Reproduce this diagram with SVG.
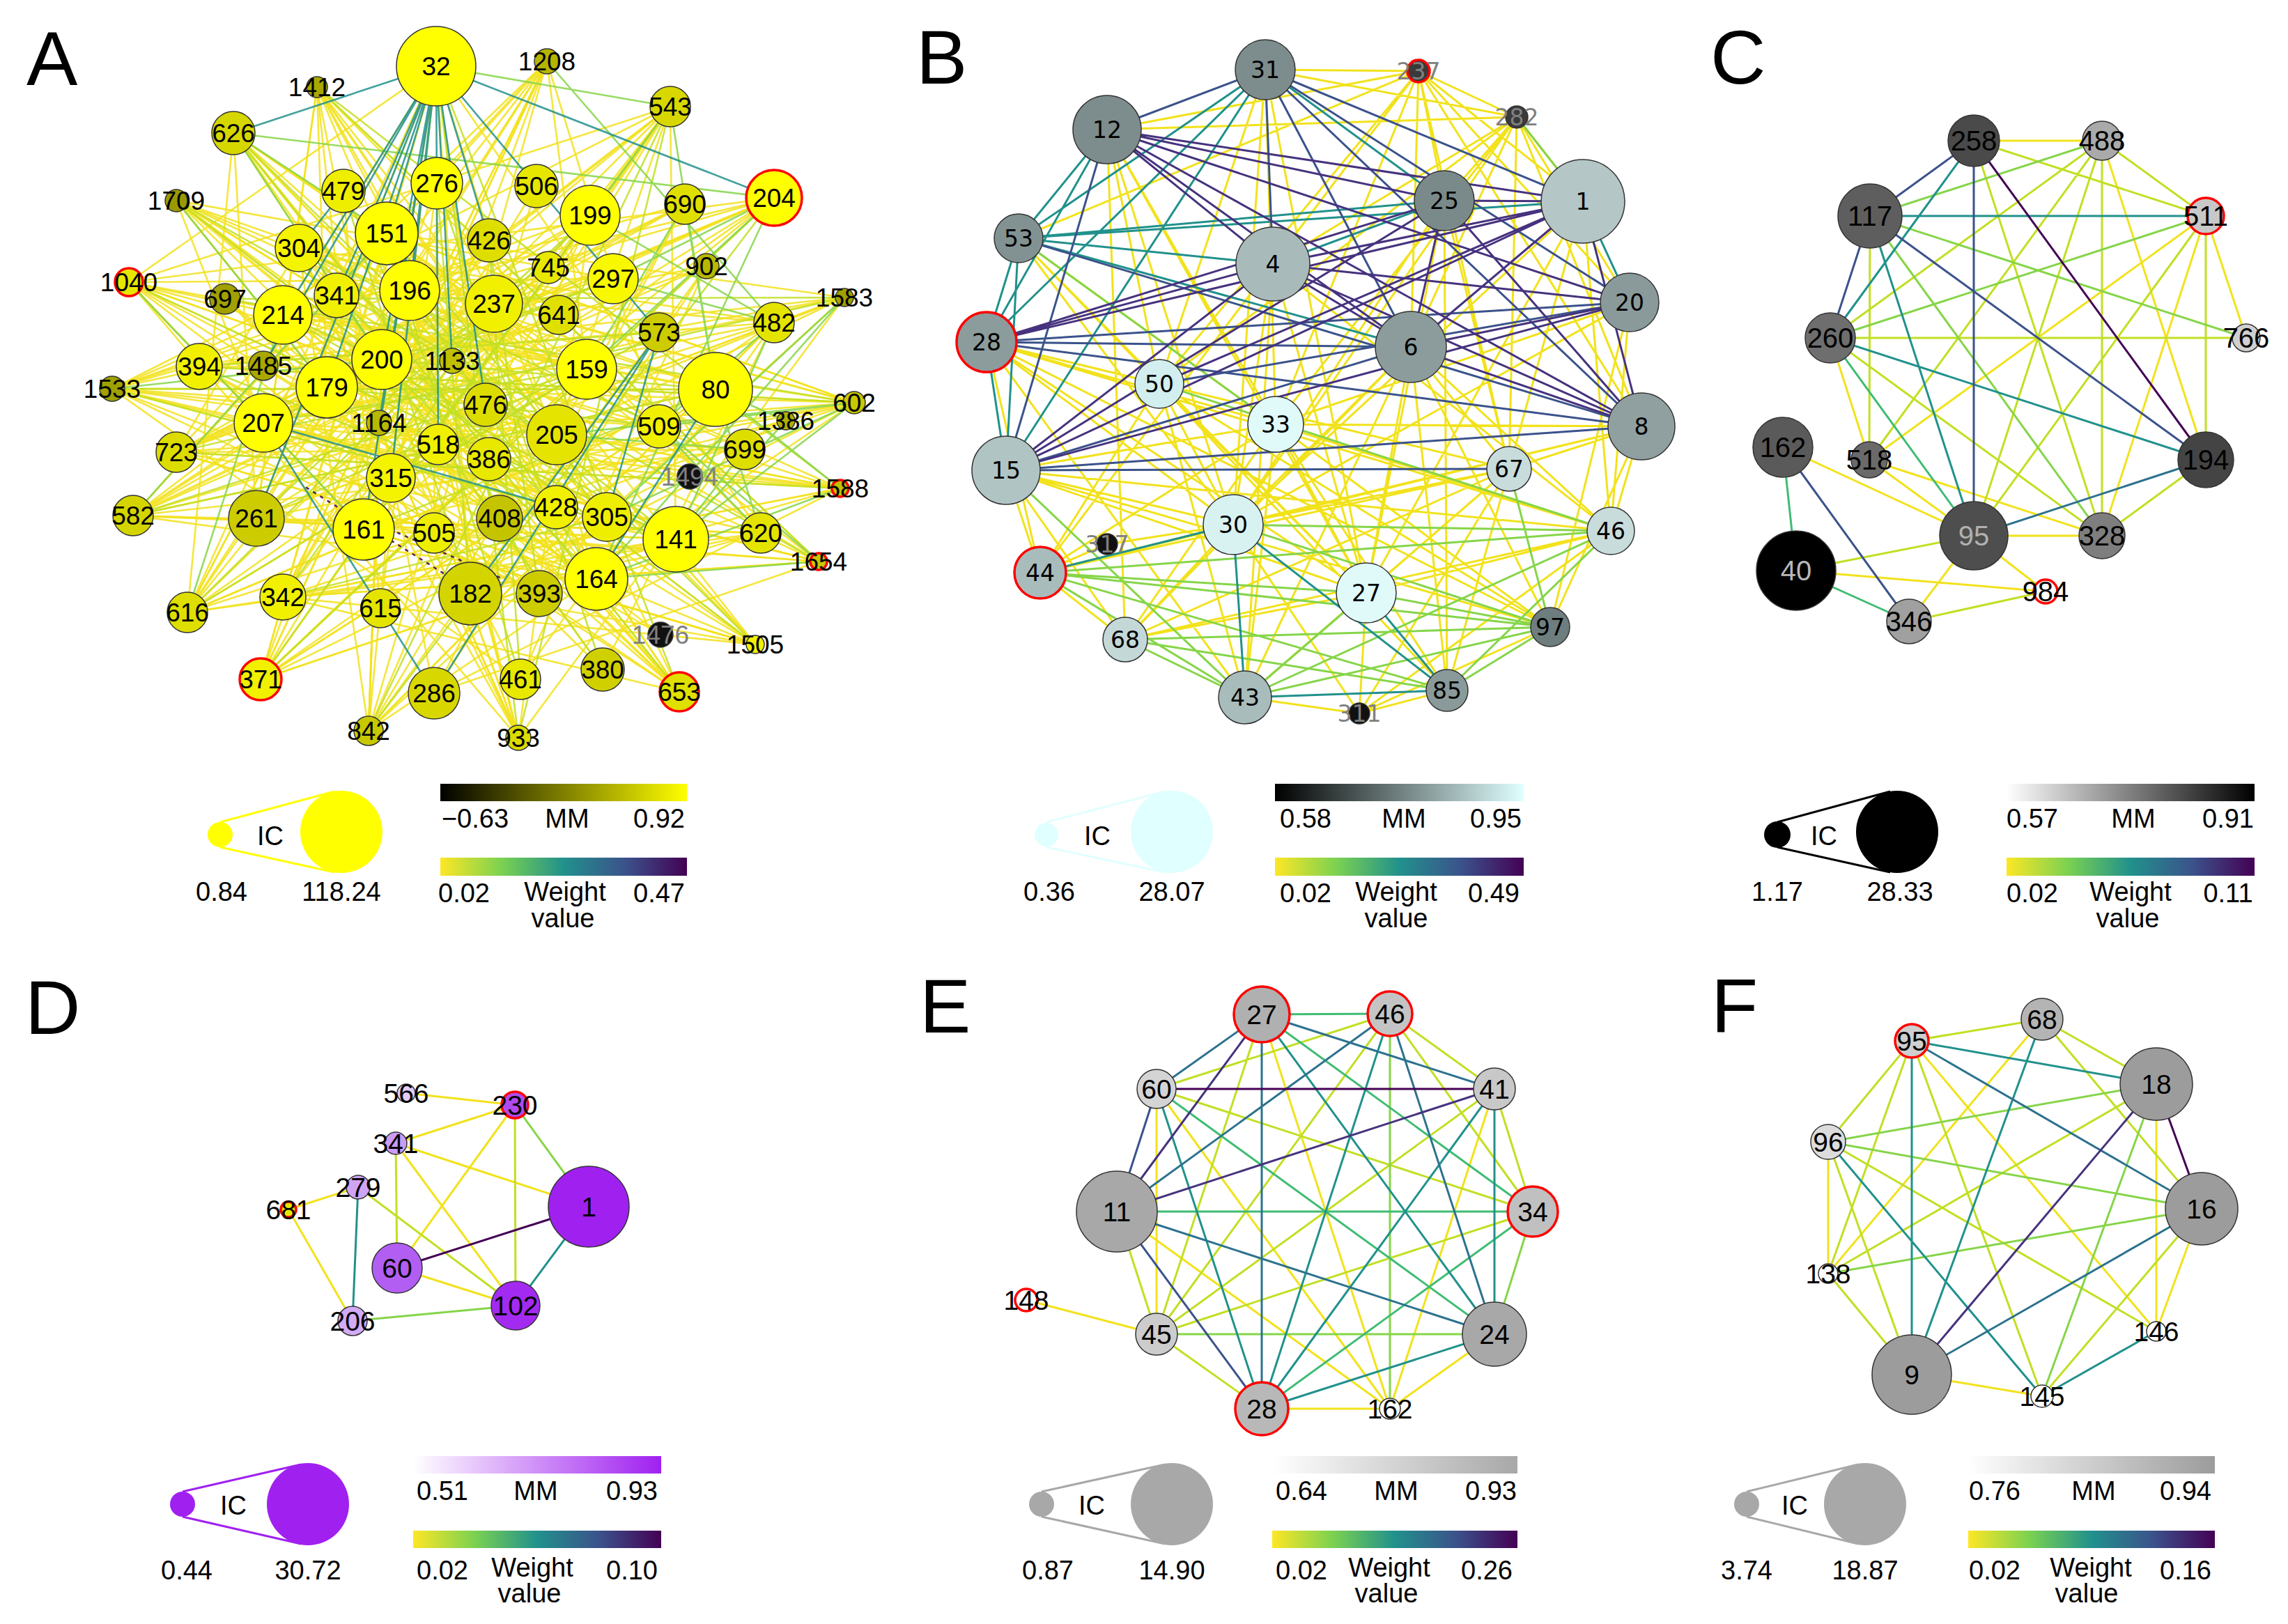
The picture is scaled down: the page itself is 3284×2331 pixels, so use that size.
<svg xmlns="http://www.w3.org/2000/svg" width="3284" height="2331" viewBox="0 0 3284 2331">
<defs>
<style>
.nd{stroke:#333;stroke-width:1.5}
.rd{stroke:#ff0000;stroke-width:3.5}
.t{font-family:"Liberation Sans",Arial,sans-serif;text-anchor:middle;dominant-baseline:central;fill:#000}
.la{font-size:37px}
.lb{font-family:"DejaVu Sans",sans-serif;font-size:33px}
.lc{font-size:40px}
.ld{font-size:39px}
.gr{fill:#808080}
.lg{font-size:38px}
.pl{font-family:"Liberation Sans",Arial,sans-serif;font-size:110px;fill:#000}
.e{fill:none;stroke-width:3;stroke-linejoin:round;stroke-linecap:round}
.ea{fill:none;stroke-width:2.6;stroke-linejoin:round;stroke-linecap:round;stroke-opacity:0.85}
.y{stroke:#f2e21c}.yg{stroke:#c2df23}.g{stroke:#86d549}.gg{stroke:#3fbc73}.t1{stroke:#21918c}.tb{stroke:#2c728e}.b{stroke:#3b528b}.p{stroke:#46327e}.pp{stroke:#440154}
</style>
<linearGradient id="gW" x1="0" x2="1" y1="0" y2="0">
<stop offset="0" stop-color="#fde725"/><stop offset="0.25" stop-color="#7ad151"/><stop offset="0.5" stop-color="#21918c"/><stop offset="0.75" stop-color="#3b528b"/><stop offset="1" stop-color="#440154"/>
</linearGradient>
<linearGradient id="gA" x1="0" x2="1"><stop offset="0" stop-color="#000"/><stop offset="1" stop-color="#ffff00"/></linearGradient>
<linearGradient id="gB" x1="0" x2="1"><stop offset="0" stop-color="#000"/><stop offset="1" stop-color="#e0ffff"/></linearGradient>
<linearGradient id="gC" x1="0" x2="1"><stop offset="0" stop-color="#fff"/><stop offset="1" stop-color="#000"/></linearGradient>
<linearGradient id="gD" x1="0" x2="1"><stop offset="0" stop-color="#fff"/><stop offset="1" stop-color="#a020f0"/></linearGradient>
<linearGradient id="gE" x1="0" x2="1"><stop offset="0" stop-color="#fff"/><stop offset="1" stop-color="#a8a8a8"/></linearGradient>
<linearGradient id="gF" x1="0" x2="1"><stop offset="0" stop-color="#fff"/><stop offset="1" stop-color="#9c9c9c"/></linearGradient>
</defs>
<rect width="3284" height="2331" fill="#fff"/>

<g id="panel-labels">
<text class="pl" x="38" y="122">A</text>
<text class="pl" x="1315" y="120">B</text>
<text class="pl" x="2455" y="120">C</text>
<text class="pl" x="36" y="1484">D</text>
<text class="pl" x="1320" y="1482">E</text>
<text class="pl" x="2456" y="1482">F</text>
</g>

<!-- ================= PANEL A ================= -->
<g id="A-connectors">
<path class="ea y" d="M626 95 L406 452 785 88 378 607 962 153 368 744 1111 284 469 556 1212 427 286 526 1226 578 429 356 1206 701 378 607 1175 806 522 760 1084 925 406 857 975 993 548 516 744 1059 555 335 529 1049 847 309 374 975 842 530 269 879 1027 559 191 740 970 774 253 649 880 400 161 558 856 831 185 405 799 624 253 288 946 612 335 191 871 742 455 125 1092 765 626 95"/>
<path class="ea y" d="M335 191 L548 516 1111 284 522 760 185 405 1027 559 374 975 627 263 975 993 588 417 161 558 970 774 962 153 561 686 744 1059 847 309 191 740 1111 463 529 1049 709 436 1226 578 406 452 1084 925 555 335 269 879 842 530 785 88 406 857 1175 806 429 356 253 649 856 831 626 95 702 659 1206 701 469 556 253 288 799 624 1212 427 368 744 455 125 623 995"/>
<path class="ea y" d="M1111 284 L406 452 983 293 378 607 1111 463 286 526 1014 382 253 649 1069 645 191 740 1092 765 269 879 1128 604 374 975 970 774 185 405 946 612 161 558 1027 559 253 288 842 530 335 191 856 831 455 125 799 624 962 153 406 857 785 88 368 744 626 95 522 760 1084 925 469 556 975 993 548 516 529 1049 588 417 744 1059 555 335 1226 578 675 852 1206 701 623 995 1175 806 378 607"/>
<path class="ea y" d="M626 95 L185 405 1111 284 374 975 962 153 191 740 785 88 269 879 335 191 975 993 253 288 1084 925 455 125 1175 806 161 558 1206 701 253 649 1226 578 529 1049 1212 427 744 1059 185 405 962 153 161 558 1111 284 269 879 626 95 374 975 785 88 253 649 983 293 191 740 1014 382 529 1049 1111 463 374 975"/>
<path class="ea y" d="M185 405 L406 452 161 558 378 607 253 288 469 556 253 649 548 516 191 740 555 335 269 879 588 417 335 191 368 744 455 125 469 556 323 429 842 530 286 526 856 831 378 525 970 774 374 975 555 335 529 1049 429 356 744 1059 406 452 975 993 378 607 185 405"/>
<path class="ea y" d="M493 274 L546 873 627 263 623 765 770 267 406 857 702 345 269 879 787 384 253 649 802 452 191 740 649 518 374 975 544 607 785 88 629 638 962 153 697 581 455 125 717 744 335 191 702 659 253 288 798 728 185 405 774 852 161 558 747 975 429 356 865 961 323 429 948 911 286 526 975 993"/>
<path class="ea y" d="M1084 925 L856 831 1092 765 675 852 1084 925 522 760 1226 578 561 686 1212 427 555 335 1226 578 469 556 1206 701 406 857 1175 806 368 744 1092 765 378 607 1069 645 429 356 1111 463 588 417 1027 559 406 452"/>
<path class="ea y" d="M455 125 L522 760 962 153 469 556 1111 284 378 607 1212 427 368 744 1226 578 406 857 1206 701 406 452 1175 806 555 335 1084 925 588 417 975 993 429 356 744 1059 548 516 529 1049 842 530 374 975 1027 559 269 879 970 774 191 740 856 831 253 649 847 309 161 558 799 624 185 405 880 400 253 288 871 742 335 191 946 612 785 88 561 686 626 95 675 852 983 293 623 995 1014 382 747 975 1111 463 865 961"/>
<path class="ea yg" d="M555 335 L799 624 406 452 970 774 429 356 946 612 469 556 880 400 378 607 842 530 368 744 847 309 522 760 1027 559 548 516 856 831 588 417 871 742 406 857 709 436 561 686 946 477 286 526 798 728 483 424 865 961 627 263 675 852 493 274 774 852 702 345 747 975 555 335"/>
<path class="ea yg" d="M185 405 L970 774 161 558 1027 559 191 740 842 530 269 879 847 309 374 975 1111 284 529 1049 962 153 744 1059 626 95 975 993 335 191 1084 925 253 288 1175 806 455 125 1206 701 253 649 1212 427 323 429 1226 578 286 526"/>
<path class="ea g" d="M1111 284 L880 400 1111 463 970 774 1226 578 871 742 1212 427 856 831 1111 284 842 530 983 293 1027 559 962 153 847 309 1111 463 946 612 1092 765 1027 559 1128 604 970 774 1069 645 799 624 1226 578 946 612 1175 806 856 831 1206 701 1027 559"/>
<path class="ea g" d="M335 191 L1111 284 M335 191 L555 335 M335 191 L548 516 M785 88 L1111 463 M626 95 L962 153 M253 288 L469 556 M185 405 L522 760 M161 558 L548 516 M191 740 L555 335 M269 879 L406 452"/>
<path class="ea t1" stroke-width="2" stroke-opacity="0.75" d="M626 95 L555 335 M626 95 L548 516 M626 95 L469 556 M626 95 L406 452 M626 95 L522 760 M626 95 L561 686 M626 95 L544 607 M626 95 L483 424 M626 95 L588 417 M626 95 L378 525 M626 95 L368 744 M626 95 L629 638 M626 95 L697 581 M626 95 L946 477 M626 95 L1111 284 M626 95 L702 345 M626 95 L649 518 M946 477 L623 995 M946 477 L675 852 M378 607 L798 728 M378 607 L623 995 M335 191 L626 95 M946 477 L871 742 M1027 559 L856 831 M493 274 L429 356"/>
<path class="ea pp" stroke-dasharray="3 9" d="M440 700 L680 850 M560 760 L720 830"/>
</g>
<g id="A-nodes">
<g id="A-n32"><circle class="nd" cx="626" cy="95" r="57" fill="#ffff00"/><text class="t la" x="626" y="95">32</text></g>
<g id="A-n1208"><circle class="nd" cx="785" cy="88" r="18" fill="#b5b500"/><text class="t la" x="785" y="88">1208</text></g>
<g id="A-n1412"><circle class="nd" cx="455" cy="125" r="15" fill="#a8a800"/><text class="t la" x="455" y="125">1412</text></g>
<g id="A-n543"><circle class="nd" cx="962" cy="153" r="29" fill="#d8d800"/><text class="t la" x="962" y="153">543</text></g>
<g id="A-n626"><circle class="nd" cx="335" cy="191" r="31" fill="#d6d600"/><text class="t la" x="335" y="191">626</text></g>
<g id="A-n204"><circle class="rd" cx="1111" cy="284" r="40" fill="#ffff00"/><text class="t la" x="1111" y="284">204</text></g>
<g id="A-n1709"><circle class="nd" cx="253" cy="288" r="16" fill="#9a9a00"/><text class="t la" x="253" y="288">1709</text></g>
<g id="A-n479"><circle class="nd" cx="493" cy="274" r="31" fill="#eeee00"/><text class="t la" x="493" y="274">479</text></g>
<g id="A-n276"><circle class="nd" cx="627" cy="263" r="37" fill="#ffff00"/><text class="t la" x="627" y="263">276</text></g>
<g id="A-n506"><circle class="nd" cx="770" cy="267" r="31" fill="#e6e600"/><text class="t la" x="770" y="267">506</text></g>
<g id="A-n199"><circle class="nd" cx="847" cy="309" r="43" fill="#ffff00"/><text class="t la" x="847" y="309">199</text></g>
<g id="A-n690"><circle class="nd" cx="983" cy="293" r="29" fill="#e0e000"/><text class="t la" x="983" y="293">690</text></g>
<g id="A-n151"><circle class="nd" cx="555" cy="335" r="45" fill="#ffff00"/><text class="t la" x="555" y="335">151</text></g>
<g id="A-n304"><circle class="nd" cx="429" cy="356" r="34" fill="#f4f400"/><text class="t la" x="429" y="356">304</text></g>
<g id="A-n426"><circle class="nd" cx="702" cy="345" r="31" fill="#dede00"/><text class="t la" x="702" y="345">426</text></g>
<g id="A-n745"><circle class="nd" cx="787" cy="384" r="23" fill="#e8e800"/><text class="t la" x="787" y="384">745</text></g>
<g id="A-n297"><circle class="nd" cx="880" cy="400" r="36" fill="#f8f800"/><text class="t la" x="880" y="400">297</text></g>
<g id="A-n902"><circle class="nd" cx="1014" cy="382" r="18" fill="#b8b800"/><text class="t la" x="1014" y="382">902</text></g>
<g id="A-n1040"><circle class="rd" cx="185" cy="405" r="20" fill="#e6e600"/><text class="t la" x="185" y="405">1040</text></g>
<g id="A-n697"><circle class="nd" cx="323" cy="429" r="22" fill="#a0a000"/><text class="t la" x="323" y="429">697</text></g>
<g id="A-n214"><circle class="nd" cx="406" cy="452" r="42" fill="#ffff00"/><text class="t la" x="406" y="452">214</text></g>
<g id="A-n341"><circle class="nd" cx="483" cy="424" r="32" fill="#f0f000"/><text class="t la" x="483" y="424">341</text></g>
<g id="A-n196"><circle class="nd" cx="588" cy="417" r="43" fill="#ffff00"/><text class="t la" x="588" y="417">196</text></g>
<g id="A-n237"><circle class="nd" cx="709" cy="436" r="41" fill="#f0f000"/><text class="t la" x="709" y="436">237</text></g>
<g id="A-n641"><circle class="nd" cx="802" cy="452" r="28" fill="#e0e000"/><text class="t la" x="802" y="452">641</text></g>
<g id="A-n573"><circle class="nd" cx="946" cy="477" r="28" fill="#cccc00"/><text class="t la" x="946" y="477">573</text></g>
<g id="A-n482"><circle class="nd" cx="1111" cy="463" r="29" fill="#e4e400"/><text class="t la" x="1111" y="463">482</text></g>
<g id="A-n1583"><circle class="nd" cx="1212" cy="427" r="13" fill="#a0a000"/><text class="t la" x="1212" y="427">1583</text></g>
<g id="A-n1533"><circle class="nd" cx="161" cy="558" r="18" fill="#a0a000"/><text class="t la" x="161" y="558">1533</text></g>
<g id="A-n394"><circle class="nd" cx="286" cy="526" r="33" fill="#f0f000"/><text class="t la" x="286" y="526">394</text></g>
<g id="A-n1485"><circle class="nd" cx="378" cy="525" r="21" fill="#a8a800"/><text class="t la" x="378" y="525">1485</text></g>
<g id="A-n200"><circle class="nd" cx="548" cy="516" r="43" fill="#ffff00"/><text class="t la" x="548" y="516">200</text></g>
<g id="A-n1133"><circle class="nd" cx="649" cy="518" r="18" fill="#c0c000"/><text class="t la" x="649" y="518">1133</text></g>
<g id="A-n159"><circle class="nd" cx="842" cy="530" r="43" fill="#ffff00"/><text class="t la" x="842" y="530">159</text></g>
<g id="A-n80"><circle class="nd" cx="1027" cy="559" r="53" fill="#ffff00"/><text class="t la" x="1027" y="559">80</text></g>
<g id="A-n602"><circle class="nd" cx="1226" cy="578" r="16" fill="#c8c800"/><text class="t la" x="1226" y="578">602</text></g>
<g id="A-n179"><circle class="nd" cx="469" cy="556" r="44" fill="#ffff00"/><text class="t la" x="469" y="556">179</text></g>
<g id="A-n207"><circle class="nd" cx="378" cy="607" r="42" fill="#ffff00"/><text class="t la" x="378" y="607">207</text></g>
<g id="A-n1164"><circle class="nd" cx="544" cy="607" r="18" fill="#b8b800"/><text class="t la" x="544" y="607">1164</text></g>
<g id="A-n476"><circle class="nd" cx="697" cy="581" r="31" fill="#dcdc00"/><text class="t la" x="697" y="581">476</text></g>
<g id="A-n205"><circle class="nd" cx="799" cy="624" r="43" fill="#e4e400"/><text class="t la" x="799" y="624">205</text></g>
<g id="A-n509"><circle class="nd" cx="946" cy="612" r="31" fill="#f0f000"/><text class="t la" x="946" y="612">509</text></g>
<g id="A-n1386"><circle class="nd" cx="1128" cy="604" r="13" fill="#b0b000"/><text class="t la" x="1128" y="604">1386</text></g>
<g id="A-n699"><circle class="nd" cx="1069" cy="645" r="29" fill="#dede00"/><text class="t la" x="1069" y="645">699</text></g>
<g id="A-n723"><circle class="nd" cx="253" cy="649" r="29" fill="#dcdc00"/><text class="t la" x="253" y="649">723</text></g>
<g id="A-n518"><circle class="nd" cx="629" cy="638" r="29" fill="#f0f000"/><text class="t la" x="629" y="638">518</text></g>
<g id="A-n386"><circle class="nd" cx="702" cy="659" r="31" fill="#e8e800"/><text class="t la" x="702" y="659">386</text></g>
<g id="A-n315"><circle class="nd" cx="561" cy="686" r="35" fill="#f4f400"/><text class="t la" x="561" y="686">315</text></g>
<g id="A-n1494"><circle class="nd" cx="990" cy="684" r="18" fill="#111"/><text class="t la gr" x="990" y="684">1494</text></g>
<g id="A-n1588"><circle class="rd" cx="1206" cy="701" r="12" fill="#c0c000"/><text class="t la" x="1206" y="701">1588</text></g>
<g id="A-n582"><circle class="nd" cx="191" cy="740" r="29" fill="#d4d400"/><text class="t la" x="191" y="740">582</text></g>
<g id="A-n261"><circle class="nd" cx="368" cy="744" r="40" fill="#cccc00"/><text class="t la" x="368" y="744">261</text></g>
<g id="A-n161"><circle class="nd" cx="522" cy="760" r="44" fill="#ffff00"/><text class="t la" x="522" y="760">161</text></g>
<g id="A-n505"><circle class="nd" cx="623" cy="765" r="29" fill="#eeee00"/><text class="t la" x="623" y="765">505</text></g>
<g id="A-n408"><circle class="nd" cx="717" cy="744" r="33" fill="#c4c400"/><text class="t la" x="717" y="744">408</text></g>
<g id="A-n428"><circle class="nd" cx="798" cy="728" r="31" fill="#f0f000"/><text class="t la" x="798" y="728">428</text></g>
<g id="A-n305"><circle class="nd" cx="871" cy="742" r="35" fill="#eeee00"/><text class="t la" x="871" y="742">305</text></g>
<g id="A-n141"><circle class="nd" cx="970" cy="774" r="47" fill="#ffff00"/><text class="t la" x="970" y="774">141</text></g>
<g id="A-n620"><circle class="nd" cx="1092" cy="765" r="29" fill="#e4e400"/><text class="t la" x="1092" y="765">620</text></g>
<g id="A-n1654"><circle class="rd" cx="1175" cy="806" r="12" fill="#c8c800"/><text class="t la" x="1175" y="806">1654</text></g>
<g id="A-n616"><circle class="nd" cx="269" cy="879" r="29" fill="#dede00"/><text class="t la" x="269" y="879">616</text></g>
<g id="A-n342"><circle class="nd" cx="406" cy="857" r="33" fill="#f0f000"/><text class="t la" x="406" y="857">342</text></g>
<g id="A-n615"><circle class="nd" cx="546" cy="873" r="28" fill="#e4e400"/><text class="t la" x="546" y="873">615</text></g>
<g id="A-n182"><circle class="nd" cx="675" cy="852" r="45" fill="#d4d400"/><text class="t la" x="675" y="852">182</text></g>
<g id="A-n393"><circle class="nd" cx="774" cy="852" r="33" fill="#cccc00"/><text class="t la" x="774" y="852">393</text></g>
<g id="A-n164"><circle class="nd" cx="856" cy="831" r="45" fill="#ffff00"/><text class="t la" x="856" y="831">164</text></g>
<g id="A-n1476"><circle class="nd" cx="948" cy="911" r="18" fill="#111"/><text class="t la gr" x="948" y="911">1476</text></g>
<g id="A-n1505"><circle class="nd" cx="1084" cy="925" r="13" fill="#f0f000"/><text class="t la" x="1084" y="925">1505</text></g>
<g id="A-n371"><circle class="rd" cx="374" cy="975" r="30" fill="#f0f000"/><text class="t la" x="374" y="975">371</text></g>
<g id="A-n286"><circle class="nd" cx="623" cy="995" r="37" fill="#d8d800"/><text class="t la" x="623" y="995">286</text></g>
<g id="A-n461"><circle class="nd" cx="747" cy="975" r="29" fill="#e8e800"/><text class="t la" x="747" y="975">461</text></g>
<g id="A-n380"><circle class="nd" cx="865" cy="961" r="31" fill="#d0d000"/><text class="t la" x="865" y="961">380</text></g>
<g id="A-n653"><circle class="rd" cx="975" cy="993" r="28" fill="#e0e000"/><text class="t la" x="975" y="993">653</text></g>
<g id="A-n842"><circle class="nd" cx="529" cy="1049" r="21" fill="#c8c800"/><text class="t la" x="529" y="1049">842</text></g>
<g id="A-n933"><circle class="nd" cx="744" cy="1059" r="18" fill="#dcdc00"/><text class="t la" x="744" y="1059">933</text></g>
</g>

<!-- ================= PANEL B ================= -->
<g id="B-connectors">
<path class="e y" d="M2036 102L1816 100M2036 102L1589 186M2036 102L1827 379M2036 102L2073 288M2036 102L2025 498M2036 102L2272 289M2036 102L2339 434M2036 102L1831 609M2036 102L1664 551M2036 102L1462 342M2036 102L2166 673M2036 102L2177 168M2036 102L2356 612
M2177 168L1816 100M2177 168L1589 186M2177 168L2073 288M2177 168L1827 379M2177 168L2025 498M2177 168L2272 289M2177 168L2339 434M2177 168L2356 612M2177 168L1831 609M2177 168L1770 753M2177 168L1664 551M2177 168L2166 673
M1831 609L1589 186M1831 609L1416 491M1831 609L1444 675M1831 609L2356 612M1831 609L2339 434M1831 609L2312 762M1831 609L1787 1001M1831 609L1961 851M1831 609L1493 822M1831 609L2077 991M1831 609L2225 900M1831 609L1615 918
M1664 551L1589 186M1664 551L1816 100M1664 551L1462 342M1664 551L1770 753M1664 551L1961 851M1664 551L1787 1001M1664 551L2077 991M1664 551L2166 673M1664 551L1416 491M1664 551L2225 900
M1770 753L1827 379M1770 753L2025 498M1770 753L2073 288M1770 753L2272 289M1770 753L2356 612M1770 753L2166 673M1770 753L1615 918M1770 753L1951 1024
M1961 851L2025 498M1961 851L1827 379M1961 851L2073 288M1961 851L2272 289M1961 851L1416 491M1961 851L1444 675M1961 851L1462 342M1961 851L2166 673M1961 851L1951 1024
M2166 673L2025 498M2166 673L2073 288M2166 673L2272 289M2166 673L1416 491M2166 673L2077 991M2166 673L1787 1001M2166 673L1493 822
M1493 822L1444 675M1493 822L1416 491M1493 822L1664 551M1493 822L1827 379M1493 822L1615 918
M1615 918L1589 186M1615 918L2025 498M1615 918L2312 762M1615 918L2166 673M1615 918L1961 851
M1787 1001L1416 491M1787 1001L2025 498M1787 1001L1951 1024
M2312 762L2025 498M2312 762L1827 379M2312 762L1444 675M2312 762L1416 491M2312 762L2272 289M2312 762L2339 434M2312 762L2356 612M2312 762L1961 851
M2077 991L2073 288M2077 991L2025 498M2077 991L1951 1024
M2225 900L2025 498M2225 900L2356 612M2225 900L2339 434M2225 900L1444 675M2225 900L1416 491
M1951 1024L2166 673M1951 1024L2312 762M1951 1024L2225 900M1589 781L1770 753M1589 781L1493 822
M1444 675L1615 918M1444 675L1770 753M1416 491L1770 753M1589 186L1770 753M1589 186L1961 851M1816 100L1831 609M1816 100L1664 551M1816 100L1770 753M1816 100L1961 851M1462 342L1831 609M1462 342L1770 753M1827 379L1787 1001M2339 434L1770 753M2356 612L2166 673M2356 612L1770 753M2356 612L1493 822"/>
<path class="e g" d="M1493 822L1770 753M1493 822L1961 851M1493 822L2077 991M1493 822L2225 900M1493 822L1787 1001M1493 822L2312 762M1787 1001L1961 851M1787 1001L2225 900M1787 1001L2312 762M1615 918L2225 900M1615 918L1787 1001M1615 918L2077 991M2077 991L2312 762M2077 991L2225 900M1770 753L2225 900M1770 753L2312 762M1961 851L2225 900M1444 675L1787 1001M1664 551L2312 762M2166 673L2225 900M2272 289L2177 168M1462 342L1831 609"/>
<path class="e t1" d="M1462 342L1816 100M1462 342L1589 186M1462 342L1416 491M1462 342L1444 675M1462 342L1827 379M1462 342L2025 498M1462 342L2073 288M1462 342L2272 289M1416 491L1589 186M1416 491L1816 100M1416 491L1444 675M1444 675L1816 100M1816 100L2073 288M1770 753L1787 1001M1770 753L2077 991M1787 1001L2077 991M1961 851L2077 991M1827 379L2073 288M2272 289L2339 434M1493 822L1770 753"/>
<path class="e b" d="M1816 100L1589 186M1816 100L1827 379M1816 100L2025 498M1816 100L2356 612M1816 100L2339 434M1816 100L2272 289M1416 491L2339 434M1416 491L2025 498M1416 491L2356 612M1444 675L2025 498M1444 675L2356 612M1444 675L2166 673M1444 675L1589 186M1462 342L2356 612M1664 551L2339 434"/>
<path class="e p" d="M1589 186L2073 288M1589 186L2272 289M1589 186L2025 498M1589 186L2339 434M1589 186L2356 612M1589 186L1827 379M1827 379L2272 289M1827 379L2339 434M1827 379L2356 612M1827 379L2025 498M2073 288L2272 289M2272 289L2025 498M2272 289L1416 491M2272 289L1444 675M2272 289L1664 551M1416 491L1827 379M1416 491L2073 288M1444 675L2073 288M1444 675L1827 379M1444 675L2339 434M2025 498L2356 612M2025 498L2339 434M2073 288L2025 498M2073 288L2356 612M2272 289L2356 612"/>
</g>
<g id="B-nodes">
<g id="B-n31"><circle class="nd" cx="1816" cy="100" r="43" fill="#7d8c8c"/><text class="t lb" x="1816" y="100">31</text></g>
<g id="B-n237"><circle class="rd" cx="2036" cy="102" r="16" fill="#3a3a3a"/><text class="t lb gr" x="2036" y="102">237</text></g>
<g id="B-n282"><circle class="nd" cx="2177" cy="168" r="16" fill="#3a3a3a"/><text class="t lb gr" x="2177" y="168">282</text></g>
<g id="B-n12"><circle class="nd" cx="1589" cy="186" r="49" fill="#7d8c8c"/><text class="t lb" x="1589" y="186">12</text></g>
<g id="B-n25"><circle class="nd" cx="2073" cy="288" r="43" fill="#7a8a8a"/><text class="t lb" x="2073" y="288">25</text></g>
<g id="B-n1"><circle class="nd" cx="2272" cy="289" r="60" fill="#b4c6c6"/><text class="t lb" x="2272" y="289">1</text></g>
<g id="B-n53"><circle class="nd" cx="1462" cy="342" r="35" fill="#829292"/><text class="t lb" x="1462" y="342">53</text></g>
<g id="B-n4"><circle class="nd" cx="1827" cy="379" r="53" fill="#a9baba"/><text class="t lb" x="1827" y="379">4</text></g>
<g id="B-n20"><circle class="nd" cx="2339" cy="434" r="42" fill="#8a9a9a"/><text class="t lb" x="2339" y="434">20</text></g>
<g id="B-n28"><circle class="rd" cx="1416" cy="491" r="43" fill="#8c9c9c"/><text class="t lb" x="1416" y="491">28</text></g>
<g id="B-n6"><circle class="nd" cx="2025" cy="498" r="51" fill="#8c9c9c"/><text class="t lb" x="2025" y="498">6</text></g>
<g id="B-n50"><circle class="nd" cx="1664" cy="551" r="35" fill="#d2eeee"/><text class="t lb" x="1664" y="551">50</text></g>
<g id="B-n33"><circle class="nd" cx="1831" cy="609" r="40" fill="#e0fafa"/><text class="t lb" x="1831" y="609">33</text></g>
<g id="B-n8"><circle class="nd" cx="2356" cy="612" r="48" fill="#90a0a0"/><text class="t lb" x="2356" y="612">8</text></g>
<g id="B-n15"><circle class="nd" cx="1444" cy="675" r="49" fill="#b0c4c4"/><text class="t lb" x="1444" y="675">15</text></g>
<g id="B-n67"><circle class="nd" cx="2166" cy="673" r="32" fill="#c8dcdc"/><text class="t lb" x="2166" y="673">67</text></g>
<g id="B-n46"><circle class="nd" cx="2312" cy="762" r="34" fill="#c8dcdc"/><text class="t lb" x="2312" y="762">46</text></g>
<g id="B-n30"><circle class="nd" cx="1770" cy="753" r="43" fill="#d8f2f2"/><text class="t lb" x="1770" y="753">30</text></g>
<g id="B-n317"><circle class="nd" cx="1589" cy="781" r="15" fill="#111"/><text class="t lb gr" x="1589" y="781">317</text></g>
<g id="B-n44"><circle class="rd" cx="1493" cy="822" r="37" fill="#a8bcbc"/><text class="t lb" x="1493" y="822">44</text></g>
<g id="B-n27"><circle class="nd" cx="1961" cy="851" r="43" fill="#e0fafa"/><text class="t lb" x="1961" y="851">27</text></g>
<g id="B-n97"><circle class="nd" cx="2225" cy="900" r="28" fill="#6e7e7e"/><text class="t lb" x="2225" y="900">97</text></g>
<g id="B-n68"><circle class="nd" cx="1615" cy="918" r="32" fill="#c4d8d8"/><text class="t lb" x="1615" y="918">68</text></g>
<g id="B-n85"><circle class="nd" cx="2077" cy="991" r="30" fill="#8a9a9a"/><text class="t lb" x="2077" y="991">85</text></g>
<g id="B-n43"><circle class="nd" cx="1787" cy="1001" r="38" fill="#a8bcbc"/><text class="t lb" x="1787" y="1001">43</text></g>
<g id="B-n311"><circle class="nd" cx="1951" cy="1024" r="15" fill="#111"/><text class="t lb gr" x="1951" y="1024">311</text></g>
</g>

<!-- ================= PANEL C ================= -->
<g id="C-connectors">
<path class="e y" d="M2833 202L3017 202M3017 202L3166 660M3166 310L2683 660M3166 310L3017 769M3166 310L3224 485M2627 485L2683 660M2683 660L3017 769M2683 660L2833 769M2833 769L3017 769M2559 642L2833 769M2578 819L2936 849M2833 769L2740 892M2833 769L2936 849"/>
<path class="e yg" d="M2833 202L3166 310M2833 202L3017 769M3017 202L3166 310M3017 202L2627 485M3017 202L2683 660M3017 202L2833 769M3017 202L3017 769M2684 310L2683 660M3166 310L2833 769M3166 310L3166 660M2627 485L3224 485M2627 485L3017 769M3017 769L3166 660M2578 819L2833 769M2740 892L2936 849"/>
<path class="e g" d="M3017 202L2684 310M2684 310L3224 485M2684 310L3017 769M3166 310L2627 485"/>
<path class="e gg" d="M2559 642L2578 819M2578 819L2740 892M2627 485L2833 769"/>
<path class="e t1" d="M2684 310L3166 310M2833 202L2627 485M2684 310L2833 769M2627 485L3166 660"/>
<path class="e tb" d="M2833 769L3166 660"/>
<path class="e b" d="M2833 202L2684 310M2833 202L2833 769M2684 310L2627 485M2684 310L3166 660M2559 642L2740 892"/>
<path class="e pp" d="M2833 202L3166 660"/>
</g>
<g id="C-nodes">
<g id="C-n258"><circle class="nd" cx="2833" cy="202" r="37" fill="#4a4a4a"/><text class="t lc" x="2833" y="202">258</text></g>
<g id="C-n488"><circle class="nd" cx="3017" cy="202" r="28" fill="#aaaaaa"/><text class="t lc" x="3017" y="202">488</text></g>
<g id="C-n117"><circle class="nd" cx="2684" cy="310" r="46" fill="#5e5e5e"/><text class="t lc" x="2684" y="310">117</text></g>
<g id="C-n511"><circle class="rd" cx="3166" cy="310" r="26" fill="#c8c8c8"/><text class="t lc" x="3166" y="310">511</text></g>
<g id="C-n260"><circle class="nd" cx="2627" cy="485" r="36" fill="#6e6e6e"/><text class="t lc" x="2627" y="485">260</text></g>
<g id="C-n766"><circle class="nd" cx="3224" cy="485" r="20" fill="#d0d0d0"/><text class="t lc" x="3224" y="485">766</text></g>
<g id="C-n162"><circle class="nd" cx="2559" cy="642" r="43" fill="#5a5a5a"/><text class="t lc" x="2559" y="642">162</text></g>
<g id="C-n518"><circle class="nd" cx="2683" cy="660" r="26" fill="#6a6a6a"/><text class="t lc" x="2683" y="660">518</text></g>
<g id="C-n194"><circle class="nd" cx="3166" cy="660" r="40" fill="#444444"/><text class="t lc" x="3166" y="660">194</text></g>
<g id="C-n95"><circle class="nd" cx="2833" cy="769" r="49" fill="#4e4e4e"/><text class="t lc" x="2833" y="769" style="fill:#b0b0b0">95</text></g>
<g id="C-n328"><circle class="nd" cx="3017" cy="769" r="33" fill="#7e7e7e"/><text class="t lc" x="3017" y="769">328</text></g>
<g id="C-n40"><circle class="nd" cx="2578" cy="819" r="57" fill="#000"/><text class="t lc" x="2578" y="819" style="fill:#b8b8b8">40</text></g>
<g id="C-n984"><circle class="rd" cx="2936" cy="849" r="17" fill="#fff"/><text class="t lc" x="2936" y="849">984</text></g>
<g id="C-n346"><circle class="nd" cx="2740" cy="892" r="32" fill="#a0a0a0"/><text class="t lc" x="2740" y="892">346</text></g>
</g>

<!-- ================= PANEL D ================= -->
<g id="D-connectors">
<path class="e y" d="M583 1569L739 1586M739 1586L568 1641M739 1586L570 1820M568 1641L845 1732M568 1641L740 1874M514 1704L414 1736M414 1736L506 1896M570 1820L740 1874"/>
<path class="e yg" d="M739 1586L740 1874M568 1641L570 1820M514 1704L740 1874"/>
<path class="e g" d="M739 1586L845 1732M506 1896L740 1874"/>
<path class="e t1" d="M514 1704L506 1896M845 1732L740 1874"/>
<path class="e pp" stroke-width="4.5" d="M570 1820L845 1732"/>
</g>
<g id="D-nodes">
<g id="D-n566"><circle class="nd" cx="583" cy="1569" r="13" fill="#e2cdf8"/><text class="t ld" x="583" y="1569">566</text></g>
<g id="D-n230"><circle class="rd" cx="739" cy="1586" r="19" fill="#b04af0"/><text class="t ld" x="739" y="1586">230</text></g>
<g id="D-n341"><circle class="nd" cx="568" cy="1641" r="16" fill="#cc9cf5"/><text class="t ld" x="568" y="1641">341</text></g>
<g id="D-n279"><circle class="nd" cx="514" cy="1704" r="17" fill="#d0a4f5"/><text class="t ld" x="514" y="1704">279</text></g>
<g id="D-n681"><circle class="rd" cx="414" cy="1736" r="11" fill="#e6e600"/><text class="t ld" x="414" y="1736">681</text></g>
<g id="D-n1"><circle class="nd" cx="845" cy="1732" r="58" fill="#a020f0"/><text class="t ld" x="845" y="1732">1</text></g>
<g id="D-n60"><circle class="nd" cx="570" cy="1820" r="36" fill="#b25ef2"/><text class="t ld" x="570" y="1820">60</text></g>
<g id="D-n102"><circle class="nd" cx="740" cy="1874" r="35" fill="#a32af0"/><text class="t ld" x="740" y="1874">102</text></g>
<g id="D-n206"><circle class="nd" cx="506" cy="1896" r="21" fill="#d2aaf5"/><text class="t ld" x="506" y="1896">206</text></g>
</g>

<!-- ================= PANEL E ================= -->
<g id="E-connectors">
<path class="e y" d="M1811 1456L1995 2022M1660 1563L1660 1915M1660 1563L1995 2022M2145 1563L1995 2022M1603 1739L1995 2022M2145 1915L1995 2022M1811 2022L1995 2022M1473 1866L1660 1915"/>
<path class="e yg" d="M1811 1456L1660 1915M1995 1455L1660 1563M1995 1455L2145 1563M1995 1455L1660 1915M1995 1455L2200 1739M1660 1563L2200 1739M2145 1563L1660 1915M2145 1563L2200 1739M1603 1739L1660 1915M2200 1739L1660 1915M1660 1915L1811 2022"/>
<path class="e g" d="M1995 1455L1995 2022M2200 1739L2145 1915M1660 1915L2145 1915"/>
<path class="e gg" d="M1811 1456L1995 1455M1811 1456L2200 1739M1660 1563L2145 1915M2200 1739L1811 2022"/>
<path class="e gg" stroke-width="4.5" d="M1603 1739L2200 1739"/>
<path class="e t1" d="M1811 1456L2145 1915M1995 1455L1811 2022M1660 1563L1811 2022M2145 1563L1811 2022M2145 1563L2145 1915M2145 1915L1811 2022"/>
<path class="e tb" d="M1811 1456L1660 1563M1811 1456L2145 1563M1811 1456L1811 2022M1995 1455L1603 1739M1995 1455L2145 1915M1603 1739L2145 1915"/>
<path class="e b" d="M1660 1563L1603 1739M1603 1739L1811 2022"/>
<path class="e p" d="M1811 1456L1603 1739M2145 1563L1603 1739"/>
<path class="e pp" d="M1660 1563L2145 1563"/>
</g>
<g id="E-nodes">
<g id="E-n27"><circle class="rd" cx="1811" cy="1456" r="40" fill="#b0b0b0"/><text class="t ld" x="1811" y="1456">27</text></g>
<g id="E-n46"><circle class="rd" cx="1995" cy="1455" r="32" fill="#c4c4c4"/><text class="t ld" x="1995" y="1455">46</text></g>
<g id="E-n60"><circle class="nd" cx="1660" cy="1563" r="28" fill="#d4d4d4"/><text class="t ld" x="1660" y="1563">60</text></g>
<g id="E-n41"><circle class="nd" cx="2145" cy="1563" r="30" fill="#c8c8c8"/><text class="t ld" x="2145" y="1563">41</text></g>
<g id="E-n11"><circle class="nd" cx="1603" cy="1739" r="58" fill="#a8a8a8"/><text class="t ld" x="1603" y="1739">11</text></g>
<g id="E-n34"><circle class="rd" cx="2200" cy="1739" r="36" fill="#c0c0c0"/><text class="t ld" x="2200" y="1739">34</text></g>
<g id="E-n148"><circle class="rd" cx="1473" cy="1866" r="16" fill="#fff"/><text class="t ld" x="1473" y="1866">148</text></g>
<g id="E-n45"><circle class="nd" cx="1660" cy="1915" r="30" fill="#cccccc"/><text class="t ld" x="1660" y="1915">45</text></g>
<g id="E-n24"><circle class="nd" cx="2145" cy="1915" r="46" fill="#a8a8a8"/><text class="t ld" x="2145" y="1915">24</text></g>
<g id="E-n28"><circle class="rd" cx="1811" cy="2022" r="38" fill="#b8b8b8"/><text class="t ld" x="1811" y="2022">28</text></g>
<g id="E-n162"><circle class="nd" cx="1995" cy="2022" r="15" fill="#fff"/><text class="t ld" x="1995" y="2022">162</text></g>
</g>

<!-- ================= PANEL F ================= -->
<g id="F-connectors">
<path class="e y" d="M2744 1494L3095 1911M2931 1463L2624 1828M3160 1735L3095 1911M2744 1973L2931 2004M3095 1556L3095 1911"/>
<path class="e y" stroke-width="4.5" d="M2624 1639L2624 1828"/>
<path class="e yg" d="M2744 1494L2931 1463M2744 1494L2624 1639M2744 1494L2624 1828M2744 1494L2931 2004M2931 1463L3095 1556M2931 1463L3160 1735M3095 1556L2624 1828M2624 1639L2744 1973M3160 1735L2931 2004M2624 1828L2744 1973M2624 1639L3095 1911"/>
<path class="e g" d="M3095 1556L2624 1639M3095 1556L2931 2004M2624 1639L3160 1735M3160 1735L2624 1828"/>
<path class="e t1" d="M2744 1494L3095 1556M2744 1494L2744 1973M2931 1463L2744 1973M2624 1639L2931 2004M3095 1911L2931 2004"/>
<path class="e tb" d="M2744 1494L3160 1735M3160 1735L2744 1973"/>
<path class="e p" d="M3095 1556L2744 1973"/>
<path class="e pp" d="M3095 1556L3160 1735"/>
</g>
<g id="F-nodes">
<g id="F-n95"><circle class="rd" cx="2744" cy="1494" r="24" fill="#cfcfcf"/><text class="t ld" x="2744" y="1494">95</text></g>
<g id="F-n68"><circle class="nd" cx="2931" cy="1463" r="30" fill="#b4b4b4"/><text class="t ld" x="2931" y="1463">68</text></g>
<g id="F-n18"><circle class="nd" cx="3095" cy="1556" r="52" fill="#9c9c9c"/><text class="t ld" x="3095" y="1556">18</text></g>
<g id="F-n96"><circle class="nd" cx="2624" cy="1639" r="25" fill="#dcdcdc"/><text class="t ld" x="2624" y="1639">96</text></g>
<g id="F-n16"><circle class="nd" cx="3160" cy="1735" r="52" fill="#9c9c9c"/><text class="t ld" x="3160" y="1735">16</text></g>
<g id="F-n138"><circle class="nd" cx="2624" cy="1828" r="14" fill="#fafafa"/><text class="t ld" x="2624" y="1828">138</text></g>
<g id="F-n146"><circle class="nd" cx="3095" cy="1911" r="14" fill="#fff"/><text class="t ld" x="3095" y="1911">146</text></g>
<g id="F-n9"><circle class="nd" cx="2744" cy="1973" r="57" fill="#9c9c9c"/><text class="t ld" x="2744" y="1973">9</text></g>
<g id="F-n145"><circle class="nd" cx="2931" cy="2004" r="16" fill="#fff"/><text class="t ld" x="2931" y="2004">145</text></g>
</g>

<!-- ================= LEGENDS ================= -->
<g id="legend-A">
<path d="M316 1180L480 1136M316 1216L480 1252" stroke="#ffff00" stroke-width="3" fill="none"/>
<circle cx="316" cy="1198" r="18" fill="#ffff00"/><circle cx="490" cy="1194" r="59" fill="#ffff00"/>
<text class="t lg" x="388" y="1200">IC</text>
<text class="t lg" x="318" y="1280">0.84</text><text class="t lg" x="490" y="1280">118.24</text>
<rect x="632" y="1125" width="354" height="25" fill="url(#gA)"/>
<text class="t lg" x="682" y="1175">−0.63</text><text class="t lg" x="814" y="1175">MM</text><text class="t lg" x="946" y="1175">0.92</text>
<rect x="632" y="1231" width="354" height="26" fill="url(#gW)"/>
<text class="t lg" x="666" y="1282">0.02</text><text class="t lg" x="811" y="1280">Weight</text><text class="t lg" x="946" y="1282">0.47</text><text class="t lg" x="808" y="1318">value</text>
</g>
<g id="legend-B">
<path d="M1502 1180L1672 1136M1502 1216L1672 1252" stroke="#e0ffff" stroke-width="3" fill="none"/>
<circle cx="1502" cy="1198" r="17" fill="#e0ffff"/><circle cx="1682" cy="1194" r="59" fill="#e0ffff"/>
<text class="t lg" x="1575" y="1200">IC</text>
<text class="t lg" x="1506" y="1280">0.36</text><text class="t lg" x="1682" y="1280">28.07</text>
<rect x="1830" y="1125" width="357" height="25" fill="url(#gB)"/>
<text class="t lg" x="1874" y="1175">0.58</text><text class="t lg" x="2015" y="1175">MM</text><text class="t lg" x="2147" y="1175">0.95</text>
<rect x="1830" y="1231" width="357" height="26" fill="url(#gW)"/>
<text class="t lg" x="1874" y="1282">0.02</text><text class="t lg" x="2004" y="1280">Weight</text><text class="t lg" x="2144" y="1282">0.49</text><text class="t lg" x="2004" y="1318">value</text>
</g>
<g id="legend-C">
<path d="M2551 1180L2713 1136M2551 1216L2713 1252" stroke="#000" stroke-width="3" fill="none"/>
<circle cx="2551" cy="1198" r="19" fill="#000"/><circle cx="2723" cy="1194" r="59" fill="#000"/>
<text class="t lg" x="2618" y="1200">IC</text>
<text class="t lg" x="2551" y="1280">1.17</text><text class="t lg" x="2727" y="1280">28.33</text>
<rect x="2880" y="1125" width="356" height="25" fill="url(#gC)"/>
<text class="t lg" x="2917" y="1175">0.57</text><text class="t lg" x="3062" y="1175">MM</text><text class="t lg" x="3198" y="1175">0.91</text>
<rect x="2880" y="1231" width="356" height="26" fill="url(#gW)"/>
<text class="t lg" x="2917" y="1282">0.02</text><text class="t lg" x="3058" y="1280">Weight</text><text class="t lg" x="3198" y="1282">0.11</text><text class="t lg" x="3054" y="1318">value</text>
</g>
<g id="legend-D">
<path d="M262 2141L432 2102M262 2177L432 2216" stroke="#a020f0" stroke-width="3" fill="none"/>
<circle cx="262" cy="2159" r="18" fill="#a020f0"/><circle cx="442" cy="2159" r="59" fill="#a020f0"/>
<text class="t lg" x="335" y="2161">IC</text>
<text class="t lg" x="268" y="2254">0.44</text><text class="t lg" x="442" y="2254">30.72</text>
<rect x="593" y="2090" width="356" height="25" fill="url(#gD)"/>
<text class="t lg" x="635" y="2140">0.51</text><text class="t lg" x="769" y="2140">MM</text><text class="t lg" x="907" y="2140">0.93</text>
<rect x="593" y="2197" width="356" height="25" fill="url(#gW)"/>
<text class="t lg" x="635" y="2254">0.02</text><text class="t lg" x="764" y="2250">Weight</text><text class="t lg" x="907" y="2254">0.10</text><text class="t lg" x="760" y="2287">value</text>
</g>
<g id="legend-E">
<path d="M1495 2141L1672 2102M1495 2177L1672 2216" stroke="#a8a8a8" stroke-width="3" fill="none"/>
<circle cx="1495" cy="2159" r="18" fill="#a8a8a8"/><circle cx="1682" cy="2159" r="59" fill="#a8a8a8"/>
<text class="t lg" x="1567" y="2161">IC</text>
<text class="t lg" x="1504" y="2254">0.87</text><text class="t lg" x="1682" y="2254">14.90</text>
<rect x="1826" y="2090" width="352" height="25" fill="url(#gE)"/>
<text class="t lg" x="1868" y="2140">0.64</text><text class="t lg" x="2004" y="2140">MM</text><text class="t lg" x="2140" y="2140">0.93</text>
<rect x="1826" y="2197" width="352" height="25" fill="url(#gW)"/>
<text class="t lg" x="1868" y="2254">0.02</text><text class="t lg" x="1994" y="2250">Weight</text><text class="t lg" x="2134" y="2254">0.26</text><text class="t lg" x="1990" y="2287">value</text>
</g>
<g id="legend-F">
<path d="M2507 2141L2667 2102M2507 2177L2667 2216" stroke="#a8a8a8" stroke-width="3" fill="none"/>
<circle cx="2507" cy="2159" r="18" fill="#a8a8a8"/><circle cx="2677" cy="2159" r="59" fill="#a8a8a8"/>
<text class="t lg" x="2576" y="2161">IC</text>
<text class="t lg" x="2507" y="2254">3.74</text><text class="t lg" x="2677" y="2254">18.87</text>
<rect x="2825" y="2090" width="354" height="25" fill="url(#gF)"/>
<text class="t lg" x="2863" y="2140">0.76</text><text class="t lg" x="3005" y="2140">MM</text><text class="t lg" x="3137" y="2140">0.94</text>
<rect x="2825" y="2197" width="354" height="25" fill="url(#gW)"/>
<text class="t lg" x="2863" y="2254">0.02</text><text class="t lg" x="3001" y="2250">Weight</text><text class="t lg" x="3137" y="2254">0.16</text><text class="t lg" x="2995" y="2287">value</text>
</g>
</svg>
